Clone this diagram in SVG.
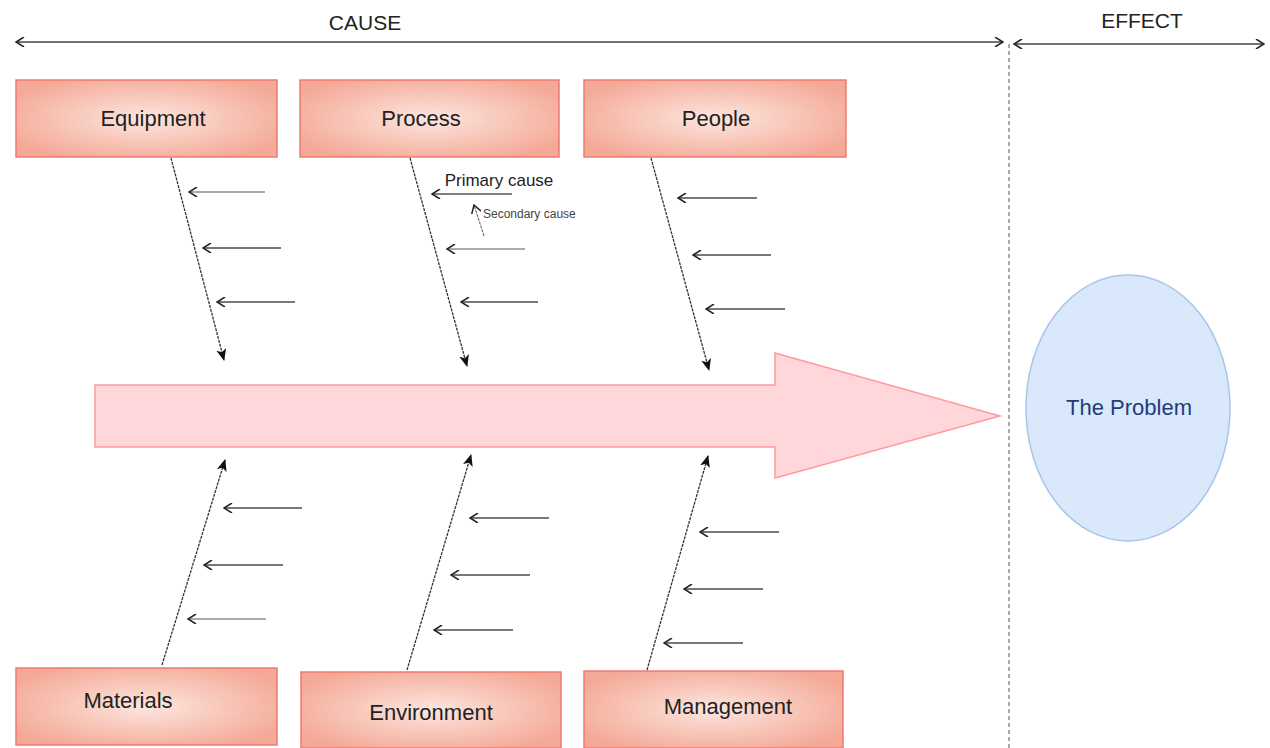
<svg xmlns="http://www.w3.org/2000/svg" width="1270" height="748" viewBox="0 0 1270 748">
<defs>
<radialGradient id="boxg" cx="50%" cy="50%" r="60%">
<stop offset="0" stop-color="#fce6de"/>
<stop offset="1" stop-color="#f4a896"/>
</radialGradient>
<marker id="openR" viewBox="0 0 10 10" refX="9" refY="5" markerWidth="10" markerHeight="10" markerUnits="userSpaceOnUse" orient="auto-start-reverse">
<path d="M1,0 L9,5 L1,10" fill="none" stroke="#222" stroke-width="1.5"/>
</marker>
<marker id="fill" viewBox="0 0 12 12" refX="11" refY="6" markerWidth="12" markerHeight="12" markerUnits="userSpaceOnUse" orient="auto">
<path d="M0,1 L12,6 L0,11 L3,6 Z" fill="#111"/>
</marker>
</defs>
<style>
.box{fill:url(#boxg);stroke:#ef7a72;stroke-width:1.5}
.lbl{font-family:"Liberation Sans",Arial,sans-serif;font-size:22px;fill:#222;text-anchor:middle;dominant-baseline:central}
.bone{stroke:#333;stroke-width:1.3;stroke-dasharray:3 1;fill:none;marker-end:url(#fill)}
.cause{stroke:#777;stroke-width:2;fill:none;marker-end:url(#openR)}
.axis{stroke:#444;stroke-width:1.3;fill:none}
</style>
<rect width="1270" height="748" fill="#fff"/>
<g id="axes">
<line class="axis" x1="16" y1="42" x2="1003" y2="42" marker-start="url(#openR)" marker-end="url(#openR)"/>
<line class="axis" x1="1014" y1="44" x2="1264" y2="44" marker-start="url(#openR)" marker-end="url(#openR)"/>
<line x1="1009" y1="44" x2="1009" y2="748" stroke="#555" stroke-width="1" stroke-dasharray="4 3"/>
<text x="365" y="22" class="lbl" style="font-size:21px">CAUSE</text>
<text x="1142" y="20" class="lbl" style="font-size:21px">EFFECT</text>
</g>
<g id="spine">
<path d="M95,385 L775,385 L775,353 L1000,416 L775,478 L775,447 L95,447 Z" fill="#ffd7da" stroke="#ff9a9f" stroke-width="1.5"/>
</g>
<g id="problem">
<ellipse cx="1128" cy="408" rx="102" ry="133" fill="#dae8fc" stroke="#a9c4eb" stroke-width="1.5"/>
<text x="1129" y="407" class="lbl" style="fill:#1f3d7a">The Problem</text>
</g>
<g id="equipment"><rect class="box" x="16" y="80" width="261" height="77"/><text class="lbl" x="153" y="118">Equipment</text></g>
<g id="process"><rect class="box" x="300" y="80" width="259" height="77"/><text class="lbl" x="421" y="118">Process</text></g>
<g id="people"><rect class="box" x="584" y="80" width="262" height="77"/><text class="lbl" x="716" y="118">People</text></g>
<g id="materials"><rect class="box" x="16" y="668" width="261" height="77"/><text class="lbl" x="128" y="700">Materials</text></g>
<g id="environment"><rect class="box" x="301" y="672" width="260" height="76"/><text class="lbl" x="431" y="712">Environment</text></g>
<g id="management"><rect class="box" x="584" y="671" width="259" height="77"/><text class="lbl" x="728" y="706">Management</text></g>
<g id="connectors">
<line class="bone" x1="171" y1="158" x2="224" y2="360"/>
<line class="bone" x1="410" y1="158" x2="467" y2="366"/>
<line class="bone" x1="651" y1="158" x2="709" y2="370"/>
<line class="bone" x1="162" y1="665" x2="225" y2="460"/>
<line class="bone" x1="407" y1="670" x2="471" y2="455"/>
<line class="bone" x1="647" y1="670" x2="708" y2="456"/>
<line class="cause" x1="265" y1="192" x2="189" y2="192" style="stroke:#aaa"/>
<line class="cause" x1="281" y1="248" x2="203" y2="248"/>
<line class="cause" x1="295" y1="302" x2="217" y2="302"/>
<line class="cause" x1="512" y1="194" x2="432" y2="194" style="stroke:#555;stroke-width:1.4"/>
<line class="cause" x1="525" y1="249" x2="447" y2="249" style="stroke:#aaa"/>
<line class="cause" x1="538" y1="302" x2="461" y2="302"/>
<line class="cause" x1="484" y1="236" x2="474" y2="205" style="stroke:#555;stroke-width:1;stroke-dasharray:3 1"/>
<line class="cause" x1="757" y1="198" x2="678" y2="198"/>
<line class="cause" x1="771" y1="255" x2="693" y2="255"/>
<line class="cause" x1="785" y1="309" x2="706" y2="309"/>
<line class="cause" x1="302" y1="508" x2="224" y2="508"/>
<line class="cause" x1="283" y1="565" x2="204" y2="565"/>
<line class="cause" x1="266" y1="619" x2="188" y2="619" style="stroke:#aaa"/>
<line class="cause" x1="549" y1="518" x2="470" y2="518"/>
<line class="cause" x1="530" y1="575" x2="451" y2="575"/>
<line class="cause" x1="513" y1="630" x2="434" y2="630"/>
<line class="cause" x1="779" y1="532" x2="700" y2="532"/>
<line class="cause" x1="763" y1="589" x2="684" y2="589"/>
<line class="cause" x1="743" y1="643" x2="664" y2="643"/>
<text x="499" y="180" class="lbl" style="font-size:17px">Primary cause</text>
<text x="483" y="214" class="lbl" style="font-size:12px;text-anchor:start;fill:#444">Secondary cause</text>
</g>
</svg>
